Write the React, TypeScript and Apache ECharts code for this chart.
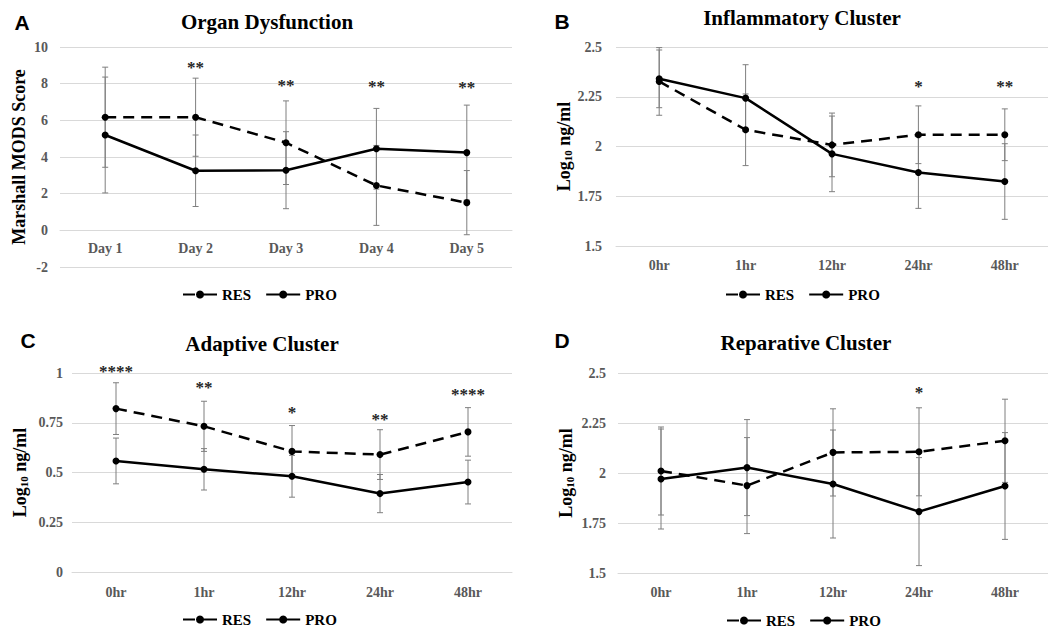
import React, { useEffect, useRef } from "react";
import * as echarts from "echarts";

const dayCats = ["Day 1", "Day 2", "Day 3", "Day 4", "Day 5"];
const hourCats = ["0hr", "1hr", "12hr", "24hr", "48hr"];
const yTicksA = [-2, 10, 2];
const yTicksLog = [1.5, 2.5, 0.25];
const yTicksC = [0, 1, 0.25];

// Panel A: Organ Dysfunction
const resA = [6.17, 6.17, 4.78, 2.45, 1.51];
const resErrA = [2.73, 2.13, 2.28, 2.18, 1.75];
const proA = [5.2, 3.25, 3.28, 4.45, 4.24];
const proErrA = [3.16, 1.95, 2.1, 2.2, 2.59];
const sigA = ["", "**", "**", "**", "**"];
const sigPosA = [0, 9.1, 8.1, 8.05, 8.0];

// Panel B: Inflammatory Cluster
const resB = [2.327, 2.084, 2.008, 2.059, 2.059];
const resErrB = [0.17, 0.18, 0.16, 0.145, 0.13];
const proB = [2.34, 2.243, 1.963, 1.869, 1.824];
const proErrB = [0.145, 0.168, 0.19, 0.18, 0.19];
const sigB = ["", "", "", "*", "**"];
const sigPosB = [0, 0, 0, 2.322, 2.322];

// Panel C: Adaptive Cluster
const resC = [0.821, 0.732, 0.606, 0.59, 0.704];
const resErrC = [0.13, 0.126, 0.13, 0.125, 0.122];
const proC = [0.558, 0.516, 0.481, 0.394, 0.452];
const proErrC = [0.115, 0.104, 0.105, 0.096, 0.11];
const sigC = ["****", "**", "*", "**", "****"];
const sigPosC = [1.03, 0.946, 0.821, 0.787, 0.913];

// Panel D: Reparative Cluster
const resD = [2.01, 1.937, 2.103, 2.106, 2.161];
const resErrD = [0.22, 0.24, 0.218, 0.22, 0.208];
const proD = [1.97, 2.027, 1.945, 1.807, 1.935];
const proErrD = [0.25, 0.24, 0.27, 0.27, 0.267];
const sigD = ["", "", "", "*", ""];
const sigPosD = [0, 0, 0, 2.425, 0];

const titles = ["Organ Dysfunction", "Inflammatory Cluster", "Adaptive Cluster", "Reparative Cluster"];
const letters = ["A", "B", "C", "D"];
const seriesNames = ["RES", "PRO"];

const SERIF = "'Liberation Serif', 'Times New Roman', serif";
const SANS = "'Liberation Sans', Arial, sans-serif";

export default function App() {
  const ref = useRef<HTMLDivElement>(null);

  useEffect(() => {
    if (!ref.current) return;
    const chart = echarts.init(ref.current, undefined, { renderer: "svg" });

    const panels = [
      { cats: dayCats, ticks: yTicksA, res: resA, resErr: resErrA, pro: proA, proErr: proErrA, sig: sigA, sigPos: sigPosA,
        grid: { left: 60, top: 47, width: 452, height: 220 }, crossAt: 0, labelMargin: 11, yMargin: 12,
        yName: "Marshall MODS Score", nameGap: 32, title: [267, 22], letter: [22, 22], legend: [182, 287] },
      { cats: hourCats, ticks: yTicksLog, res: resB, resErr: resErrB, pro: proB, proErr: proErrB, sig: sigB, sigPos: sigPosB,
        grid: { left: 616, top: 47, width: 439, height: 199 }, crossAt: 1.5, labelMargin: 12, yMargin: 14,
        yName: "log", nameGap: 43, title: [802, 18], letter: [562, 21], legend: [725, 287] },
      { cats: hourCats, ticks: yTicksC, res: resC, resErr: resErrC, pro: proC, proErr: proErrC, sig: sigC, sigPos: sigPosC,
        grid: { left: 72, top: 373, width: 440, height: 199 }, crossAt: 0, labelMargin: 13, yMargin: 9,
        yName: "log", nameGap: 43, title: [262, 344], letter: [28, 340], legend: [182, 612] },
      { cats: hourCats, ticks: yTicksLog, res: resD, resErr: resErrD, pro: proD, proErr: proErrD, sig: sigD, sigPos: sigPosD,
        grid: { left: 618, top: 373, width: 439, height: 200 }, crossAt: 1.5, labelMargin: 12, yMargin: 12,
        yName: "log", nameGap: 43, title: [806, 343], letter: [562, 340], legend: [726, 613] },
    ];

    const errRender = (params: any, api: any) => {
      const i = api.value(0);
      const v = api.value(1);
      const e = api.value(2);
      const top = api.coord([i, v + e]);
      const bot = api.coord([i, v - e]);
      const x = top[0];
      const hw = 3;
      const st = { stroke: "#7f7f7f", lineWidth: 1 };
      return {
        type: "group",
        children: [
          { type: "line", shape: { x1: x, y1: top[1], x2: x, y2: bot[1] }, style: st },
          { type: "line", shape: { x1: x - hw, y1: top[1], x2: x + hw, y2: top[1] }, style: st },
          { type: "line", shape: { x1: x - hw, y1: bot[1], x2: x + hw, y2: bot[1] }, style: st },
        ],
      };
    };

    const starRender = (params: any, api: any) => {
      const i = api.value(0);
      const y = api.value(1);
      const pt = api.coord([i, y]);
      return {
        type: "text",
        x: pt[0],
        y: pt[1] + 4,
        style: {
          text: api.value(2),
          font: `bold 17px ${SERIF}`,
          fill: "#262626",
          align: "center",
          verticalAlign: "middle",
          textAlign: "center",
          textVerticalAlign: "middle",
        },
      };
    };

    const grids: any[] = [];
    const xAxes: any[] = [];
    const yAxes: any[] = [];
    const series: any[] = [];
    const legends: any[] = [];
    const graphics: any[] = [];

    panels.forEach((p, k) => {
      grids.push({ ...p.grid, containLabel: false });
      // category axis crosses the value axis at p.crossAt (Excel style)
      const range = p.ticks[1] - p.ticks[0];
      const axisOffset = -((p.crossAt - p.ticks[0]) / range) * p.grid.height;
      xAxes.push({
        type: "category",
        gridIndex: k,
        data: p.cats,
        boundaryGap: true,
        offset: axisOffset,
        axisLine: { show: true, onZero: false, lineStyle: { color: "#d9d9d9", width: 1 } },
        axisTick: { show: false },
        axisLabel: { margin: p.labelMargin, fontFamily: SERIF, fontWeight: "bold", fontSize: 14, color: "#595959" },
        splitLine: { show: false },
      });
      const logName = "{a|Log}{s|10}{a| ng/ml}";
      yAxes.push({
        type: "value",
        gridIndex: k,
        min: p.ticks[0],
        max: p.ticks[1],
        interval: p.ticks[2],
        axisLine: { show: false },
        axisTick: { show: false },
        axisLabel: { margin: p.yMargin, fontFamily: SERIF, fontWeight: "bold", fontSize: 14, color: "#595959" },
        splitLine: { lineStyle: { color: "#d9d9d9", width: 1 } },
        name: p.yName === "log" ? logName : p.yName,
        nameLocation: "middle",
        nameRotate: 90,
        nameGap: p.nameGap,
        nameTextStyle: {
          fontFamily: SERIF,
          fontWeight: "bold",
          fontSize: 18,
          color: "#000",
          rich: {
            a: { fontFamily: SERIF, fontWeight: "bold", fontSize: 18, color: "#000" },
            s: { fontFamily: SERIF, fontWeight: "bold", fontSize: 11, color: "#000", verticalAlign: "bottom", padding: [6, 0, 0, 0] },
          },
        },
      });

      const errs = [
        { vals: p.res, err: p.resErr },
        { vals: p.pro, err: p.proErr },
      ];
      errs.forEach((e) => {
        series.push({
          type: "custom",
          xAxisIndex: k,
          yAxisIndex: k,
          renderItem: errRender,
          encode: { x: 0, y: 1 },
          data: e.vals.map((v, i) => [i, v, e.err[i]]),
          z: 1,
          silent: true,
        });
      });

      series.push({
        name: seriesNames[0],
        type: "line",
        xAxisIndex: k,
        yAxisIndex: k,
        data: p.res,
        symbol: "circle",
        symbolSize: 7,
        lineStyle: { color: "#000", width: 2.5, type: [11, 7] },
        itemStyle: { color: "#000" },
        z: 3,
      });
      series.push({
        name: seriesNames[1],
        type: "line",
        xAxisIndex: k,
        yAxisIndex: k,
        data: p.pro,
        symbol: "circle",
        symbolSize: 7,
        lineStyle: { color: "#000", width: 2.5, type: "solid" },
        itemStyle: { color: "#000" },
        z: 3,
      });
      series.push({
        type: "custom",
        xAxisIndex: k,
        yAxisIndex: k,
        renderItem: starRender,
        encode: { x: 0, y: 1 },
        data: p.sig
          .map((s, i) => (s ? [i, p.sigPos[i], s] : null))
          .filter((d) => d !== null),
        dimensions: ["x", "y", { name: "s", type: "ordinal" }],
        z: 4,
        silent: true,
      });

      legends.push({
        left: p.legend[0],
        top: p.legend[1],
        padding: 0,
        data: [
          { name: seriesNames[0], lineStyle: { type: [12, 3, 19, 3] } },
          { name: seriesNames[1] },
        ],
        itemWidth: 34,
        itemHeight: 10,
        itemGap: 14,
        textStyle: { fontFamily: SERIF, fontWeight: "bold", fontSize: 15, color: "#000" },
        selectedMode: false,
      });

      graphics.push({
        type: "text",
        x: p.title[0],
        y: p.title[1],
        style: {
          text: titles[k],
          font: `bold 21px ${SERIF}`,
          fill: "#000",
          align: "center",
          verticalAlign: "middle",
          textAlign: "center",
          textVerticalAlign: "middle",
        },
      });
      graphics.push({
        type: "text",
        x: p.letter[0],
        y: p.letter[1],
        style: {
          text: letters[k],
          font: `bold 21px ${SANS}`,
          fill: "#000",
          align: "center",
          verticalAlign: "middle",
          textAlign: "center",
          textVerticalAlign: "middle",
        },
      });
    });

    chart.setOption({
      animation: false,
      backgroundColor: "#fff",
      grid: grids,
      xAxis: xAxes,
      yAxis: yAxes,
      legend: legends,
      series,
      graphic: graphics,
    });

    return () => chart.dispose();
  }, []);

  return <div ref={ref} style={{ position: "absolute", left: 0, top: 0, width: 1048, height: 630 }} />;
}
